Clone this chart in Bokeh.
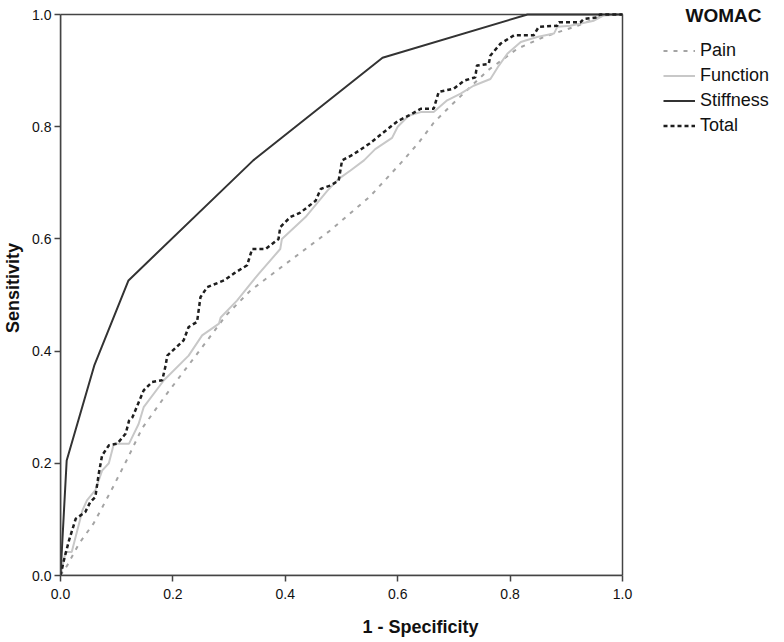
from bokeh.plotting import figure
from bokeh.models import Range1d, Legend, LegendItem, FixedTicker, Label, BoxAnnotation
from bokeh.embed import file_html
from bokeh.resources import INLINE

# ROC curve data (x = 1 - Specificity, y = Sensitivity)
pain_x = [0, 0.012, 0.033, 0.059, 0.089, 0.119, 0.145, 0.187, 0.243, 0.294, 0.338, 0.40, 0.48, 0.55, 0.61, 0.64, 0.664, 0.698, 0.76, 0.813, 0.86, 0.92, 0.97, 1.0]
pain_y = [0, 0.018, 0.057, 0.093, 0.149, 0.208, 0.262, 0.321, 0.395, 0.463, 0.508, 0.555, 0.615, 0.675, 0.74, 0.775, 0.807, 0.841, 0.90, 0.939, 0.96, 0.98, 1.0, 1.0]

function_x = [0, 0.009, 0.02, 0.039, 0.047, 0.062, 0.074, 0.086, 0.095, 0.122, 0.139, 0.148, 0.184, 0.228, 0.252, 0.282, 0.285, 0.314, 0.338, 0.353, 0.391, 0.394, 0.436, 0.475, 0.495, 0.516, 0.54, 0.56, 0.59, 0.60, 0.62, 0.641, 0.664, 0.688, 0.712, 0.735, 0.765, 0.78, 0.795, 0.819, 0.848, 0.878, 0.884, 0.907, 0.949, 0.966, 1.0]
function_y = [0, 0.042, 0.042, 0.116, 0.134, 0.152, 0.187, 0.200, 0.235, 0.235, 0.270, 0.300, 0.348, 0.392, 0.428, 0.449, 0.460, 0.490, 0.520, 0.538, 0.582, 0.600, 0.639, 0.686, 0.707, 0.722, 0.740, 0.760, 0.780, 0.800, 0.820, 0.826, 0.826, 0.847, 0.859, 0.873, 0.885, 0.909, 0.930, 0.951, 0.960, 0.966, 0.978, 0.980, 0.989, 0.998, 1.0]

stiffness_x = [0, 0.011, 0.060, 0.121, 0.343, 0.573, 0.831, 1.0]
stiffness_y = [0, 0.205, 0.374, 0.526, 0.740, 0.923, 1.0, 1.0]

total_x = [0, 0.006, 0.015, 0.027, 0.044, 0.053, 0.062, 0.068, 0.074, 0.086, 0.101, 0.116, 0.122, 0.128, 0.148, 0.163, 0.181, 0.187, 0.190, 0.219, 0.228, 0.243, 0.249, 0.261, 0.291, 0.308, 0.332, 0.341, 0.365, 0.388, 0.391, 0.409, 0.427, 0.454, 0.463, 0.480, 0.495, 0.501, 0.52, 0.55, 0.575, 0.60, 0.62, 0.641, 0.664, 0.673, 0.700, 0.718, 0.738, 0.741, 0.762, 0.765, 0.783, 0.807, 0.842, 0.851, 0.884, 0.887, 0.925, 0.931, 0.955, 0.96, 1.0]
total_y = [0, 0.027, 0.062, 0.101, 0.113, 0.131, 0.140, 0.181, 0.214, 0.232, 0.235, 0.253, 0.276, 0.282, 0.330, 0.345, 0.348, 0.374, 0.392, 0.419, 0.443, 0.452, 0.496, 0.514, 0.526, 0.538, 0.553, 0.582, 0.582, 0.600, 0.621, 0.639, 0.647, 0.668, 0.689, 0.695, 0.704, 0.740, 0.750, 0.770, 0.790, 0.810, 0.820, 0.832, 0.832, 0.862, 0.868, 0.882, 0.888, 0.909, 0.912, 0.927, 0.948, 0.963, 0.963, 0.978, 0.980, 0.986, 0.986, 0.992, 0.995, 1.0, 1.0]

ticks = [0.0, 0.2, 0.4, 0.6, 0.8, 1.0]
tick_labels = {t: f"{t:.1f}" for t in ticks}
series_names = ["Pain", "Function", "Stiffness", "Total"]
legend_title = "WOMAC"

FONT = "Liberation Sans"
AX = "#444444"

# layout (pixels)
W, H = 780, 641
LEFT, BOTTOM = 60, 66
PLOT_W, PLOT_H = 562, 561          # size of the 0..1 square
frame_w, frame_h = W - LEFT, H - BOTTOM

p = figure(width=W, height=H, output_backend="svg", toolbar_location=None,
           x_range=Range1d(0, frame_w / PLOT_W), y_range=Range1d(0, frame_h / PLOT_H),
           min_border_left=LEFT, min_border_right=0, min_border_top=0, min_border_bottom=BOTTOM)
p.background_fill_color = "white"
p.border_fill_color = "white"
p.outline_line_color = None
p.grid.visible = False

for ax in (p.xaxis[0], p.yaxis[0]):
    ax.bounds = (0, 1)
    ax.ticker = FixedTicker(ticks=ticks)
    ax.major_label_overrides = tick_labels
    ax.minor_tick_line_color = None
    ax.major_tick_in = 0
    ax.major_tick_out = 6
    ax.major_tick_line_color = AX
    ax.major_tick_line_width = 1.5
    ax.axis_line_color = AX
    ax.axis_line_width = 1.5
    ax.major_label_text_font = FONT
    ax.major_label_text_font_size = "14px"
    ax.major_label_text_color = "#111111"
    ax.axis_label_text_font = FONT
    ax.axis_label_text_font_size = "18px"
    ax.axis_label_text_font_style = "bold"
    ax.axis_label_text_color = "#111111"

p.xaxis.axis_label = "1 - Specificity"
p.yaxis.axis_label = "Sensitivity"
p.xaxis.major_label_standoff = 7
p.yaxis.major_label_standoff = 3
p.xaxis.axis_label_standoff = 15
p.yaxis.axis_label_standoff = 6

# plot box (0..1 square)
p.add_layout(BoxAnnotation(left=0, right=1, bottom=0, top=1, fill_alpha=0,
                           line_color=AX, line_alpha=1.0, line_width=1.5, level="underlay"))

r_pain = p.line(pain_x, pain_y, line_color="#a4a4a4", line_width=2, line_dash="4 6")
r_func = p.line(function_x, function_y, line_color="#c8c8c8", line_width=2)
r_stiff = p.line(stiffness_x, stiffness_y, line_color="#333333", line_width=2)
r_total = p.line(total_x, total_y, line_color="#1e1e1e", line_width=2.5, line_dash="4 3")

legend = Legend(items=[LegendItem(label=n, renderers=[r]) for n, r in
                       zip(series_names, [r_pain, r_func, r_stiff, r_total])],
                location=(603, 439), padding=0, margin=0, spacing=4,
                glyph_width=32, glyph_height=21, label_standoff=5,
                label_text_font=FONT, label_text_font_size="18px",
                label_text_color="#111111",
                border_line_color=None, background_fill_alpha=0)
p.add_layout(legend, "center")

p.add_layout(Label(x=663, y=560, x_units="screen", y_units="screen", text=legend_title,
                   text_font=FONT, text_font_size="19px", text_font_style="bold",
                   text_color="#111111", text_align="center", text_baseline="middle"))

open("out.html", "w").write(file_html(p, INLINE))
